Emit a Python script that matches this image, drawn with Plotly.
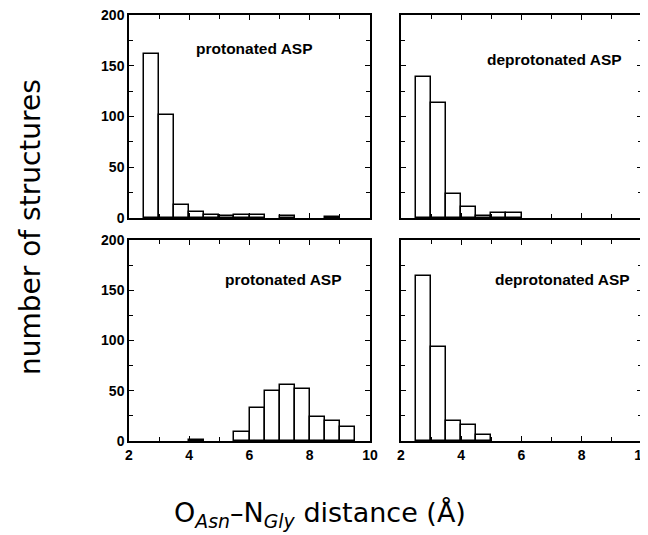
import plotly.graph_objects as go

# bin left edges (Å), bin width 0.5
bin_left = [2.5, 3.0, 3.5, 4.0, 4.5, 5.0, 5.5, 6.0, 6.5, 7.0, 7.5, 8.0, 8.5, 9.0]
bin_width = 0.5

top_left_counts = [162, 101, 13, 6, 3, 2, 3, 3, 0, 2, 0, 0, 1, 0]
top_right_counts = [139, 113, 24, 11, 2, 5, 5, 0, 0, 0, 0, 0, 0, 0]
bottom_left_counts = [0, 0, 0, 1, 0, 0, 9, 33, 50, 56, 52, 24, 20, 14]
bottom_right_counts = [164, 94, 20, 16, 6, 0, 0, 0, 0, 0, 0, 0, 0, 0]

panel_labels = ["protonated ASP", "deprotonated ASP", "protonated ASP", "deprotonated ASP"]
x_ticks = [2, 4, 6, 8, 10]
y_ticks = [0, 50, 100, 150, 200]

# the page places the figure 8 px from the window's top-left corner
OFF = 8
W, H = 648 - OFF, 535 - OFF
def px_x(a, b):
    return [(a - OFF) / W, (b - OFF) / W]
def px_y(top, bot):
    return [1 - (bot - OFF) / H, 1 - (top - OFF) / H]
def fx(x):
    return (x - OFF) / W
def fy(y):
    return 1 - (y - OFF) / H

panels = [
    (top_left_counts, px_x(129, 370), px_y(15, 218), True, False),
    (top_right_counts, px_x(401, 642), px_y(15, 218), False, False),
    (bottom_left_counts, px_x(129, 370), px_y(240, 441), True, True),
    (bottom_right_counts, px_x(401, 642), px_y(240, 441), False, True),
]
label_pos = [(254, 49), (554, 59), (283, 279), (562, 279)]

fig = go.Figure()
tickfont = dict(family="Liberation Sans", size=14, color="black", weight="bold")
centers = [b + bin_width / 2 for b in bin_left]

for i, (counts, xd, yd, ylab, xlab) in enumerate(panels):
    n = i + 1
    xa = "x" if n == 1 else f"x{n}"
    ya = "y" if n == 1 else f"y{n}"
    xs = [c for c, v in zip(centers, counts) if v > 0]
    ys = [v for v in counts if v > 0]
    fig.add_trace(go.Bar(x=xs, y=ys, width=bin_width, xaxis=xa, yaxis=ya,
                         marker=dict(color="white", line=dict(color="black", width=1.5)),
                         showlegend=False))
    axx = dict(domain=xd, range=[2, 10], tickvals=x_ticks, ticks="inside", ticklen=5,
               tickwidth=1.2, showline=True, linewidth=1.5, linecolor="black", mirror="allticks",
               showgrid=False, zeroline=False, showticklabels=xlab, tickfont=tickfont,
               ticklabeloverflow="allow",
               minor=dict(ticks="inside", dtick=1, tick0=2, ticklen=4, tickwidth=1, tickcolor="black"),
               anchor=ya, tickcolor="black", automargin=False)
    axy = dict(domain=yd, range=[0, 200], tickvals=y_ticks, ticks="inside", ticklen=5,
               tickwidth=1.2, showline=True, linewidth=1.5, linecolor="black", mirror="allticks",
               showgrid=False, zeroline=False, showticklabels=ylab, tickfont=tickfont,
               ticklabeloverflow="allow",
               minor=dict(ticks="inside", dtick=25, tick0=0, ticklen=4, tickwidth=1, tickcolor="black"),
               anchor=xa, tickcolor="black", automargin=False)
    fig.update_layout(**{("xaxis" if n == 1 else f"xaxis{n}"): axx,
                         ("yaxis" if n == 1 else f"yaxis{n}"): axy})
    lx, ly = label_pos[i]
    fig.add_annotation(x=fx(lx), y=fy(ly), xref="paper", yref="paper",
                       xanchor="center", yanchor="middle",
                       text=panel_labels[i], showarrow=False,
                       font=dict(family="Liberation Sans", size=15.5, color="black", weight="bold"))

fig.add_annotation(x=fx(31), y=fy(227), xref="paper", yref="paper", textangle=-90,
                   xanchor="center", yanchor="middle",
                   text="number of structures", showarrow=False,
                   font=dict(family="DejaVu Sans", size=28, color="black"))
fig.add_annotation(x=fx(320), y=fy(514), xref="paper", yref="paper",
                   xanchor="center", yanchor="middle",
                   text="O<sub><i>Asn</i></sub>–N<sub><i>Gly</i></sub> distance (Å)", showarrow=False,
                   font=dict(family="DejaVu Sans", size=27, color="black"))

fig.update_layout(template="none", width=W, height=H,
                  margin=dict(l=0, r=0, t=0, b=0, autoexpand=False),
                  plot_bgcolor="white", paper_bgcolor="white", bargap=0)
fig.write_html("out.html")
